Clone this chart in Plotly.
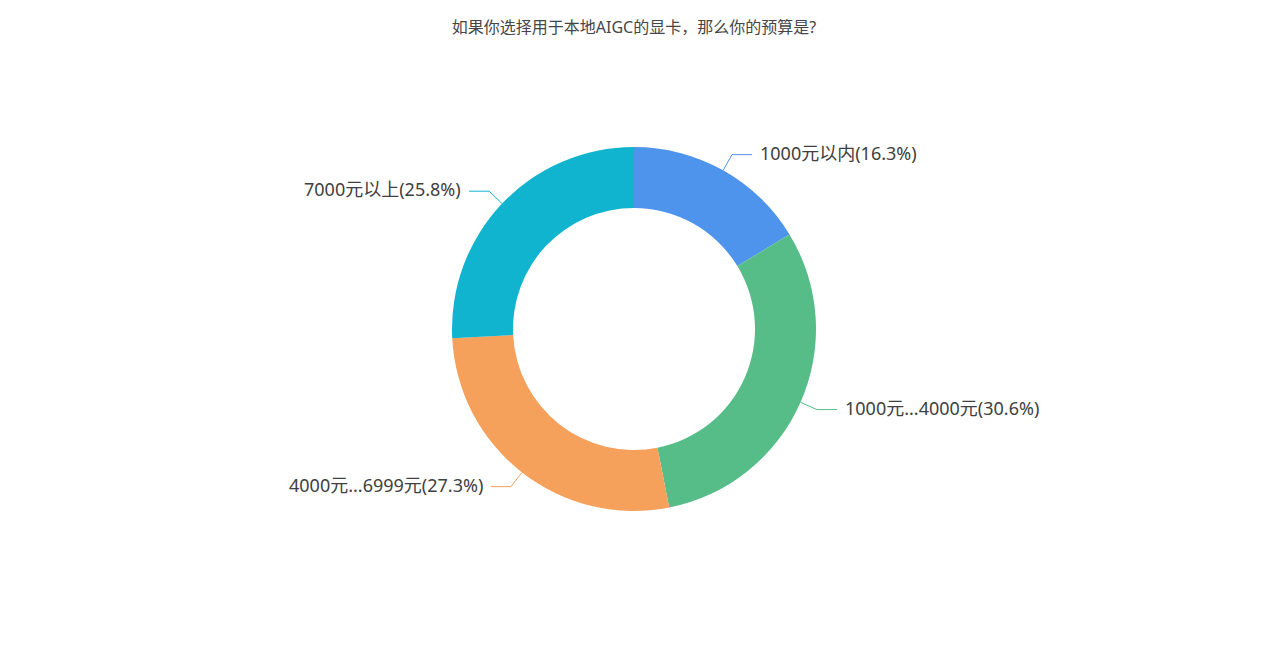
import math

import plotly.graph_objects as go

# chart data
title = "如果你选择用于本地AIGC的显卡，那么你的预算是?"
categories = ["1000元以内", "1000元...4000元", "4000元...6999元", "7000元以上"]
shares = [16.3, 30.6, 27.3, 25.8]
colors = ["#4f94ec", "#56bd88", "#f5a05b", "#10b4ce"]

W, H = 1268, 645
PAGE_PAD = 8               # default body margin of the html page
CX, CY = 634 - PAGE_PAD, 329 - PAGE_PAD   # pie centre in pixels
R_OUT = 182
R_IN = 121
FONT = "Noto Sans, Noto Sans CJK SC, sans-serif"

fig = go.Figure(
    go.Pie(
        labels=categories,
        values=shares,
        sort=False,
        direction="clockwise",
        rotation=0,
        hole=R_IN / R_OUT,
        marker=dict(colors=colors, line=dict(width=0)),
        textinfo="none",
        hoverinfo="label+percent",
        domain=dict(x=[0, 2 * CX / W], y=[(H - CY - R_OUT) / H, (H - CY + R_OUT) / H]),
        showlegend=False,
    )
)


def px(x, y):
    return x / W, 1 - y / H


# leader lines + labels, placed from each slice's middle angle
total = sum(shares)
acc = 0
for name, val, col in zip(categories, shares, colors):
    mid = (acc + val / 2) / total * 2 * math.pi
    acc += val
    sx, sy = math.sin(mid), -math.cos(mid)
    x0, y0 = CX + R_OUT * sx, CY + R_OUT * sy
    x1, y1 = CX + (R_OUT + 18) * sx, CY + (R_OUT + 18) * sy
    side = 1 if sx >= 0 else -1
    x2 = x1 + 20 * side
    for (ax, ay), (bx, by) in [((x0, y0), (x1, y1)), ((x1, y1), (x2, y1))]:
        a, b = px(ax, ay), px(bx, by)
        fig.add_shape(type="line", xref="paper", yref="paper",
                      x0=a[0], y0=a[1], x1=b[0], y1=b[1],
                      line=dict(color=col, width=1))
    # text sits a touch above the elbow line
    tx, ty = px(x2 + 6 * side, y1 - 2)
    fig.add_annotation(
        x=tx, y=ty, xref="paper", yref="paper",
        text=f"{name}({val}%)", showarrow=False,
        xanchor="left" if side > 0 else "right", yanchor="middle",
        font=dict(size=18, color="#404040", family=FONT),
    )

fig.update_layout(
    width=W,
    height=H,
    margin=dict(l=0, r=0, t=0, b=0),
    paper_bgcolor="#ffffff",
    plot_bgcolor="#ffffff",
    title=dict(text=title, x=CX / W, xanchor="center", y=1 - (27 - PAGE_PAD) / H,
               yanchor="middle",
               font=dict(size=16, color="#464646", family=FONT)),
)

fig.write_html("out.html")
